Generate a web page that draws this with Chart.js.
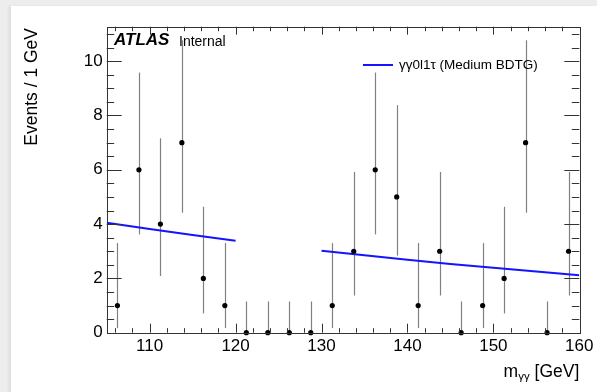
<!DOCTYPE html>
<html>
<head>
<meta charset="utf-8">
<script src="https://cdn.jsdelivr.net/npm/chart.js@4"></script>
<style>
  html, body { margin: 0; padding: 0; width: 597px; height: 392px; overflow: hidden; background: #ededed; }
  #card { position: absolute; left: 11px; top: 6px; width: 586px; height: 386px; background: #fff;
          box-shadow: -3px 0 2px rgba(0,0,0,0.05); }
  canvas { display: block; }
</style>
</head>
<body>
<div id="card"><canvas id="chart" width="586" height="386"></canvas></div>
<script>
// bin centres of the 2.5 GeV bins between 105 and 160 GeV
const massCenters = [106.25, 108.75, 111.25, 113.75, 116.25, 118.75, 121.25, 123.75, 126.25, 128.75, 131.25,
                     133.75, 136.25, 138.75, 141.25, 143.75, 146.25, 148.75, 151.25, 153.75, 156.25, 158.75];
const events      = [1, 6, 4, 7, 2, 1, 0, 0, 0, 0, 1, 3, 6, 5, 1, 3, 0, 1, 2, 7, 0, 3];
// Poisson interval edges for each bin
const errLow  = [0.17, 3.62, 2.09, 4.42, 0.71, 0.17, 0, 0, 0, 0, 0.17, 1.37, 3.62, 2.84, 0.17, 1.37, 0, 0.17, 0.71, 4.42, 0, 1.37];
const errHigh = [3.30, 9.58, 7.16, 10.77, 4.64, 3.30, 1.15, 1.15, 1.15, 1.15, 3.30, 5.92, 9.58, 8.38, 3.30, 5.92, 1.15, 3.30, 4.64, 10.77, 1.15, 5.92];

// sideband background fit
const fitLowX  = [105, 110, 115, 120];
const fitLowY  = [4.05, 3.82, 3.60, 3.39];
const fitHighX = [130, 135, 140, 145, 150, 155, 160];
const fitHighY = [3.02, 2.85, 2.69, 2.53, 2.39, 2.25, 2.12];

const xTicks = [110, 120, 130, 140, 150, 160];
const yTicks = [0, 2, 4, 6, 8, 10];

const fitLabel = 'γγ0l1τ (Medium BDTG)';
const FONT = '"Liberation Sans", Arial, Helvetica, sans-serif';

const fitPoints = fitLowX.map((x, i) => ({ x, y: fitLowY[i] }))
  .concat([{ x: 125, y: null }])
  .concat(fitHighX.map((x, i) => ({ x, y: fitHighY[i] })));

const atlasDecor = {
  id: 'atlasDecor',
  beforeDatasetsDraw(chart) {
    const { ctx, scales: { x, y } } = chart;
    ctx.save();
    ctx.strokeStyle = '#808080';
    ctx.lineWidth = 1.2;
    massCenters.forEach((m, i) => {
      const px = Math.round(x.getPixelForValue(m)) + 0.5;
      ctx.beginPath();
      ctx.moveTo(px, y.getPixelForValue(errLow[i]));
      ctx.lineTo(px, y.getPixelForValue(errHigh[i]));
      ctx.stroke();
    });
    ctx.restore();
  },
  afterDatasetsDraw(chart) {
    const { ctx, chartArea: a, scales: { x, y } } = chart;
    ctx.save();
    ctx.strokeStyle = '#333';
    ctx.lineWidth = 1;
    ctx.strokeRect(Math.round(a.left) + 0.5, Math.round(a.top) + 0.5,
                   Math.round(a.right - a.left), Math.round(a.bottom - a.top));
    ctx.beginPath();
    // x ticks, bottom and top, every 2 GeV
    for (let v = 106; v < 160; v += 2) {
      const px = Math.round(x.getPixelForValue(v)) + 0.5;
      const major = v % 10 === 0;
      ctx.moveTo(px, a.bottom); ctx.lineTo(px, a.bottom - (major ? 9 : 4.5));
      ctx.moveTo(px, a.top); ctx.lineTo(px, a.top + (major ? 8 : 4.5));
    }
    // y ticks, left and right, every 0.5
    for (let v = 0.5; v < 11.2; v += 0.5) {
      const py = Math.round(y.getPixelForValue(v)) + 0.5;
      const major = v % 2 === 0;
      ctx.moveTo(a.left, py); ctx.lineTo(a.left + (major ? 15 : 7.5), py);
      ctx.moveTo(a.right, py); ctx.lineTo(a.right - (major ? 15 : 7.5), py);
    }
    ctx.stroke();
    ctx.restore();
  },
  afterDraw(chart) {
    const { ctx, chartArea: a } = chart;
    ctx.save();
    ctx.fillStyle = '#000';
    ctx.textBaseline = 'alphabetic';

    // ATLAS label
    ctx.font = `italic bold 17px ${FONT}`;
    ctx.fillText('ATLAS', 103, 39);
    ctx.font = `14px ${FONT}`;
    ctx.fillText('Internal', 168, 40);

    // legend
    ctx.strokeStyle = '#1414ff';
    ctx.lineWidth = 2;
    ctx.beginPath();
    ctx.moveTo(352, 59); ctx.lineTo(382, 59);
    ctx.stroke();
    ctx.font = `13.5px ${FONT}`;
    ctx.textBaseline = 'middle';
    ctx.fillText(fitLabel, 388, 59.5);

    // y title, rotated, ending at the top of the frame
    ctx.textBaseline = 'alphabetic';
    ctx.save();
    ctx.translate(26.3, 22);
    ctx.rotate(-Math.PI / 2);
    ctx.textAlign = 'right';
    ctx.font = `17.5px ${FONT}`;
    ctx.fillText('Events / 1 GeV', 0, 0);
    ctx.restore();

    // x title m_γγ [GeV], right aligned to the frame
    const big = `17.5px ${FONT}`, small = `11.5px ${FONT}`;
    ctx.font = big; const wM = ctx.measureText('m').width; const wU = ctx.measureText(' [GeV]').width;
    ctx.font = small; const wS = ctx.measureText('γγ').width;
    let tx = a.right - (wM + wS + wU);
    const base = 370.5;
    ctx.font = big; ctx.fillText('m', tx, base); tx += wM;
    ctx.font = small; ctx.fillText('γγ', tx, base + 3); tx += wS;
    ctx.font = big; ctx.fillText(' [GeV]', tx, base);
    ctx.restore();
  }
};

new Chart(document.getElementById('chart'), {
  type: 'scatter',
  data: {
    datasets: [
      {
        label: 'data',
        data: massCenters.map((m, i) => ({ x: m, y: events[i] })),
        pointRadius: 2.6,
        pointBackgroundColor: '#000',
        pointBorderWidth: 0,
        clip: false
      },
      {
        label: fitLabel,
        data: fitPoints,
        showLine: true,
        spanGaps: false,
        borderColor: '#1414ff',
        borderWidth: 2,
        pointRadius: 0,
        fill: false
      }
    ]
  },
  options: {
    responsive: false,
    animation: false,
    events: [],
    layout: { padding: { top: 20.7, right: 17.7, left: 0, bottom: 0 } },
    plugins: { legend: { display: false }, tooltip: { enabled: false } },
    scales: {
      x: {
        type: 'linear', min: 105, max: 160,
        grid: { display: false, drawTicks: false, tickLength: 0 }, border: { display: false },
        afterBuildTicks: s => { s.ticks = xTicks.map(v => ({ value: v })); },
        ticks: { padding: 3, maxRotation: 0, color: '#000', font: { family: FONT, size: 17 } },
        afterFit: s => { s.height = 59.3; }
      },
      y: {
        type: 'linear', min: 0, max: 11.27,
        grid: { display: false, drawTicks: false, tickLength: 0 }, border: { display: false },
        afterBuildTicks: s => { s.ticks = yTicks.map(v => ({ value: v })); },
        ticks: { padding: 4, color: '#000', font: { family: FONT, size: 17 } },
        afterFit: s => { s.width = 95.7; }
      }
    }
  },
  plugins: [atlasDecor]
});
</script>
</body>
</html>
